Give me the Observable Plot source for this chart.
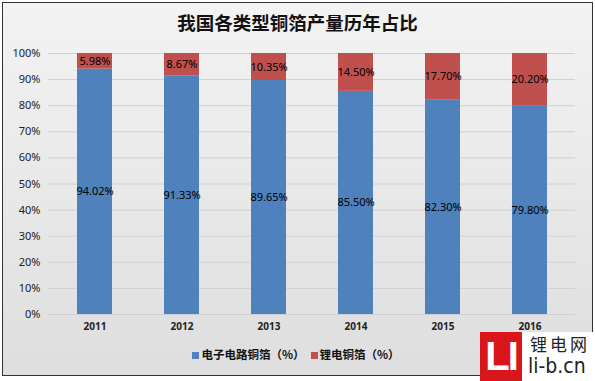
<!DOCTYPE html>
<html><head><meta charset="utf-8">
<script src="https://cdn.jsdelivr.net/npm/d3@7"></script>
<script src="https://cdn.jsdelivr.net/npm/@observablehq/plot@0.6"></script>
<style>
html,body{margin:0;padding:0;width:595px;height:381px;overflow:hidden;background:#fff;font-family:"Noto Sans CJK SC","Noto Sans",sans-serif;}
#frame{position:absolute;left:2px;top:2px;width:589px;height:372px;border:1px solid #333;background:linear-gradient(#f3f3f3,#dedede);}
#title{position:absolute;left:0;top:9px;width:595px;text-align:center;font-size:18.5px;font-weight:bold;color:#111;}
#chart{position:absolute;left:0;top:0;}
#legend{position:absolute;left:0;top:346px;width:586px;text-align:center;font-size:11.5px;font-weight:bold;color:#111;}
#legend span.sw{display:inline-block;width:7px;height:7px;margin:0 2px 0 6px;vertical-align:middle;}
#wm{position:absolute;left:480px;top:332px;width:115px;height:49px;background:#fff;}
#wm .box{position:absolute;left:0;top:0;width:42px;height:49px;background:#d9161c;color:#fff;font:bold 40px/49px "Liberation Sans",sans-serif;text-align:center;letter-spacing:-2px;}
#wm .t1{position:absolute;left:50px;top:-1px;font-size:17px;letter-spacing:3px;color:#222;}
#wm .t2{position:absolute;left:48px;top:22px;font:21px "Liberation Sans Narrow","DejaVu Sans Condensed",sans-serif;color:#222;}
</style></head>
<body>
<div id="frame"></div>
<div id="title">我国各类型铜箔产量历年占比</div>
<div id="chart"></div>
<div id="legend"><span class="sw" style="background:#4f81bd"></span>电子电路铜箔（%）<span class="sw" style="background:#c0504d"></span>锂电铜箔（%）</div>
<div id="wm"><div class="box">LI</div><div class="t1">锂电网</div><div class="t2">li-b.cn</div></div>
<script>
const years = ["2011","2012","2013","2014","2015","2016"];
const circuit = [94.02, 91.33, 89.65, 85.50, 82.30, 79.80];
const lithium = [5.98, 8.67, 10.35, 14.50, 17.70, 20.20];
const seriesNames = ["电子电路铜箔（%）","锂电铜箔（%）"];
const yTicks = [0,10,20,30,40,50,60,70,80,90,100];

const rows = [];
years.forEach((y,i)=>{
  rows.push({year:y, series:seriesNames[0], value:circuit[i]});
  rows.push({year:y, series:seriesNames[1], value:lithium[i]});
});

const chart = Plot.plot({
  width:595, height:340,
  marginTop:53, marginBottom:26, marginLeft:48, marginRight:20,
  style:{background:"transparent", fontFamily:"'Noto Sans','Liberation Sans',sans-serif"},
  x:{domain:years, paddingInner:0.6, paddingOuter:0.3, label:null, tickSize:0},
  y:{domain:[0,100], ticks:yTicks, tickFormat:d=>d+"%", label:null, tickSize:0},
  color:{domain:seriesNames, range:["#4f81bd","#c0504d"]},
  marks:[
    Plot.gridY(yTicks,{stroke:"#d0d0d0", strokeOpacity:1}),
    Plot.axisY({ticks:yTicks, tickFormat:d=>d+"%", tickSize:0, tickPadding:8, fontSize:11, fill:"#222"}),
    Plot.axisX({tickSize:0, tickPadding:8, fontSize:10, fontWeight:"bold", fill:"#222"}),
    Plot.barY(rows, Plot.stackY({x:"year", y:"value", fill:"series", order:seriesNames})),
    Plot.text(rows, Plot.stackY({x:"year", y:"value", z:"series", order:seriesNames, text:d=>d.value.toFixed(2)+"%", fill:"#000", fontSize:11}))
  ]
});
document.getElementById("chart").appendChild(chart);
</script>
</body></html>
